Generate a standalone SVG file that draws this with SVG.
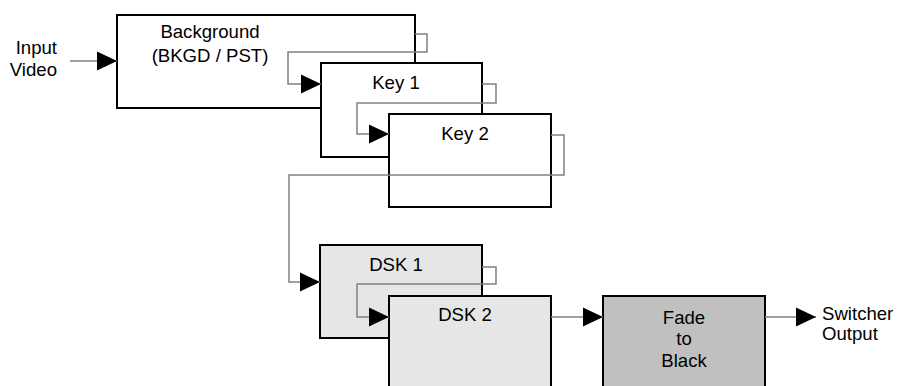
<svg xmlns="http://www.w3.org/2000/svg" width="897" height="386" viewBox="0 0 897 386">
<defs>
<marker id="arr" markerUnits="userSpaceOnUse" markerWidth="20" markerHeight="20" viewBox="0 0 18 17" refX="18" refY="8.5" orient="auto">
<path d="M0,0 L18,8.5 L0,17 Z" fill="#000"/>
</marker>
<style>
.box{stroke:#000;stroke-width:2;fill:#fff}
.dsk{fill:#e6e6e6}
.ftb{fill:#c0c0c0}
.conn{fill:none;stroke:#808080;stroke-width:1.5}
.arrow{fill:none;stroke:#808080;stroke-width:1.5;marker-end:url(#arr)}
text{font-family:"Liberation Sans",Arial,sans-serif;font-size:18.6px;fill:#000}
.c{text-anchor:middle}
</style>
</defs>
<rect width="897" height="386" fill="#fff"/>
<g id="input-label">
<text x="57" y="54" text-anchor="end">Input</text>
<text x="57" y="76" text-anchor="end">Video</text>
</g>
<g id="background">
<rect class="box" x="117" y="15" width="298" height="93"/>
<text class="c" x="210" y="38">Background</text>
<text class="c" x="210" y="62">(BKGD / PST)</text>
</g>
<g id="key1">
<rect class="box" x="321" y="63" width="161" height="94"/>
<text class="c" x="396" y="89">Key 1</text>
</g>
<g id="key2">
<rect class="box" x="389" y="114" width="162" height="93"/>
<text class="c" x="465" y="140">Key 2</text>
</g>
<g id="dsk1">
<rect class="box dsk" x="320" y="245" width="162" height="93"/>
<text class="c" x="396" y="271">DSK 1</text>
</g>
<g id="dsk2">
<rect class="box dsk" x="389" y="296" width="162" height="110"/>
<text class="c" x="465" y="321">DSK 2</text>
</g>
<g id="fade-to-black">
<rect class="box ftb" x="603" y="296" width="162" height="110"/>
<text class="c" x="684" y="324">Fade</text>
<text class="c" x="684" y="345">to</text>
<text class="c" x="684" y="367">Black</text>
</g>
<g id="output-label">
<text x="822" y="320">Switcher</text>
<text x="822" y="340">Output</text>
</g>
<g id="connectors">
<path class="arrow" d="M70,61 H117"/>
<path class="arrow" d="M415,34 H427 V52 H288 V84 H321"/>
<path class="arrow" d="M482,84 H496 V103 H357 V134 H389"/>
<path class="arrow" d="M551,135 H564 V175 H289 V282 H320"/>
<path class="arrow" d="M482,267 H496 V284 H357 V317 H389"/>
<path class="arrow" d="M551,317 H603"/>
<path class="arrow" d="M765,317 H816"/>
</g>
</svg>
